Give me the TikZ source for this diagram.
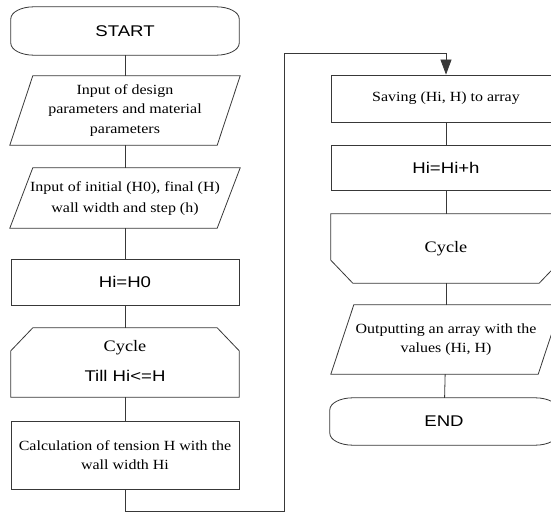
\documentclass[tikz,border=0pt]{standalone}
\usepackage{fontspec}
\setmainfont{Liberation Serif}[FakeStretch=1.14]
\newfontfamily\arialf{Liberation Sans}[FakeStretch=1.2]
\usetikzlibrary{arrows.meta,calc}
\newcommand\termshape[1]{%
  \draw[outl] ($(#1.north west)+(23,0)$) -- ($(#1.north east)+(-23,0)$)
   .. controls ($(#1.north east)+(-10.3,0)$) and ($(#1.north east)+(0,5.4)$) .. ($(#1.north east)+(0,12)$)
   -- ($(#1.south east)+(0,-12)$)
   .. controls ($(#1.south east)+(0,-5.4)$) and ($(#1.south east)+(-10.3,0)$) .. ($(#1.south east)+(-23,0)$)
   -- ($(#1.south west)+(23,0)$)
   .. controls ($(#1.south west)+(10.3,0)$) and ($(#1.south west)+(0,-5.4)$) .. ($(#1.south west)+(0,-12)$)
   -- ($(#1.north west)+(0,12)$)
   .. controls ($(#1.north west)+(0,5.4)$) and ($(#1.north west)+(10.3,0)$) .. cycle;}
\newcommand\paragram[1]{%
  \draw[outl] ($(#1.north west)+(23,0)$) -- (#1.north east) -- ($(#1.south east)+(-23,0)$) -- (#1.south west) -- cycle;}
\newcommand\chamtop[1]{%
  \draw[outl] ($(#1.north west)+(22,0)$) -- ($(#1.north east)+(-22,0)$) -- ($(#1.north east)+(0,23)$) -- (#1.south east) -- (#1.south west) -- ($(#1.north west)+(0,23)$) -- cycle;}
\newcommand\chambot[1]{%
  \draw[outl] (#1.north west) -- (#1.north east) -- ($(#1.south east)+(0,-23)$) -- ($(#1.south east)+(-22,0)$) -- ($(#1.south west)+(22,0)$) -- ($(#1.south west)+(0,-23)$) -- cycle;}
\begin{document}
\begin{tikzpicture}[x=1pt,y=-1pt,
  outl/.style={draw=black!78, line width=0.8pt},
  base/.style={inner sep=0pt, align=center, text=black,
     font=\fontsize{14}{19.5}\selectfont},
  shell/.style={base, minimum width=228pt},
  wide/.style={base, minimum width=230pt},
  procbox/.style={base, outl, minimum width=228pt},
  sans/.style={font=\arialf\fontsize{15.5}{18}\selectfont},
  conn/.style={draw=black!78, line width=0.8pt}]
\useasboundingbox (0,0) rectangle (551,513);
\clip (0,0) rectangle (551,513);

% left column
\node[shell, sans, minimum height=48pt] (start) at (125,31) {START};
\node[wide, minimum height=69pt] (in1) at (125,110.5) {Input of design\\parameters and material\\parameters};
\node[wide, minimum height=60pt] (in2) at (125,198) {\raisebox{-3pt}{\begin{tabular}{@{}c@{}}Input of initial (H0), final (H)\\[1pt]wall width and step (h)\end{tabular}}};
\node[procbox, sans, minimum height=46pt] (init) at (125,282) {Hi=H0};
\node[shell, minimum height=69pt] (cyc1) at (125,362.5) {\raisebox{4pt}{\begin{tabular}{@{}c@{}}{\fontsize{16}{18}\selectfont Cycle}\\[11pt]{\arialf\fontsize{15.5}{18}\selectfont Till Hi<=H}\end{tabular}}};
\node[procbox, minimum height=68pt] (calc) at (125,455) {Calculation of tension H with the\\wall width Hi};

% right column
\node[procbox, minimum width=230pt, minimum height=47pt] (save) at (446,98.5) {Saving (Hi, H) to array};
\node[procbox, sans, minimum width=230pt, minimum height=45pt] (inc) at (446,167.5) {Hi=Hi+h};
\node[wide, minimum height=69pt, font=\fontsize{16}{18}\selectfont] (cyc2) at (446,248.5) {Cycle};
\node[wide, minimum height=69pt] (out) at (446,339.5) {Outputting an array with the\\values (Hi, H)};
\node[shell, sans, minimum height=47pt] (end) at (444,421.5) {END};

\termshape{start}
\paragram{in1}
\paragram{in2}
\chamtop{cyc1}
\chambot{cyc2}
\paragram{out}
\termshape{end}

\coordinate (c1) at (284,511);
\coordinate (c2) at (284,53);

\draw[conn] (start) -- (in1);
\draw[conn] (in1) -- (in2);
\draw[conn] (in2) -- (init);
\draw[conn] (init) -- (cyc1);
\draw[conn] (cyc1) -- (calc);
\draw[conn, -{Triangle[length=15pt,width=11pt]}] (calc.south) |- (c1) -- (c2) -| (save.north);
\draw[conn] (save) -- (inc);
\draw[conn] (inc) -- (cyc2);
\draw[conn] (cyc2) -- (out);
\draw[conn] (out) -- (end);
\end{tikzpicture}
\end{document}
